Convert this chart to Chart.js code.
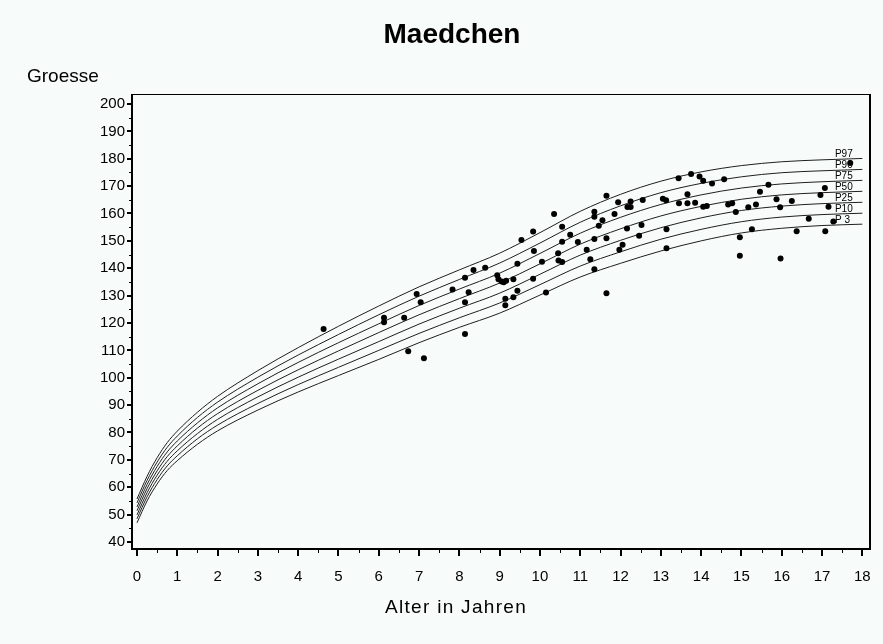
<!DOCTYPE html>
<html>
<head>
<meta charset="utf-8">
<title>Maedchen</title>
<script src="https://cdn.jsdelivr.net/npm/chart.js@4/dist/chart.umd.min.js"></script>
<style>
  html, body { margin: 0; padding: 0; background: #f7fbf9; }
  canvas { display: block; }
</style>
</head>
<body>
<canvas id="chart" width="883" height="644"></canvas>
<script>
// Percentile reference curves (height in cm by age in years)
const curveAges = [0, 0.25, 0.5, 0.75, 1, 1.5, 2, 3, 4, 5, 6, 7, 8, 9, 10, 11, 12, 13, 14, 15, 16, 17, 18];
const p97 = [55.7, 64.0, 70.8, 76.3, 80.5, 87.4, 93.2, 102.6, 111.0, 118.8, 126.2, 133.2, 139.4, 145.5, 153.0, 160.8, 167.0, 171.8, 175.2, 177.5, 178.9, 179.6, 180.1];
const p90 = [54.3, 62.5, 69.2, 74.6, 78.7, 85.5, 91.1, 100.2, 108.3, 115.8, 123.0, 129.8, 135.9, 141.9, 149.2, 156.8, 162.8, 167.6, 171.0, 173.4, 174.9, 175.6, 176.1];
const p75 = [52.8, 61.0, 67.6, 72.9, 76.9, 83.5, 89.0, 97.8, 105.6, 112.8, 119.7, 126.4, 132.4, 138.2, 145.4, 152.8, 158.6, 163.3, 166.8, 169.3, 170.8, 171.6, 172.1];
const p50 = [51.4, 59.5, 66.0, 71.2, 75.1, 81.6, 86.9, 95.4, 102.9, 109.8, 116.5, 123.0, 128.9, 134.6, 141.6, 148.8, 154.4, 159.1, 162.6, 165.2, 166.8, 167.6, 168.1];
const p25 = [49.9, 58.0, 64.4, 69.5, 73.3, 79.6, 84.8, 93.0, 100.2, 106.8, 113.2, 119.6, 125.4, 130.9, 137.8, 144.8, 150.2, 154.8, 158.4, 161.1, 162.7, 163.6, 164.1];
const p10 = [48.5, 56.5, 62.8, 67.8, 71.5, 77.7, 82.7, 90.6, 97.5, 103.8, 110.0, 116.2, 121.9, 127.3, 134.0, 140.8, 146.0, 150.6, 154.2, 157.0, 158.7, 159.6, 160.1];
const p3  = [47.0, 55.0, 61.2, 66.1, 69.7, 75.7, 80.6, 88.2, 94.8, 100.8, 106.7, 112.8, 118.4, 123.6, 130.2, 136.8, 141.8, 146.3, 150.0, 152.9, 154.6, 155.6, 156.1];
const percentileNames = ['P97', 'P90', 'P75', 'P50', 'P25', 'P10', 'P 3'];

// Measured girls: age (years) and height (cm)
const girlAges = [
  4.63, 6.13, 6.13, 6.63, 6.94, 7.04, 6.73, 7.12, 7.83, 8.14,
  8.14, 8.14, 8.23, 8.35, 8.64, 8.94, 8.97, 9.05, 9.10, 9.16,
  9.34, 9.83, 9.44, 9.14, 9.34, 9.14, 9.44, 9.54, 9.83, 9.85,
  10.05, 10.15, 10.35, 10.55, 10.45, 10.46, 10.55, 10.55, 10.75, 10.94,
  11.16, 11.25, 11.35, 11.35, 11.35, 11.35, 11.46, 11.55, 11.65, 11.65,
  11.65, 11.85, 11.94, 11.97, 12.05, 12.16, 12.17, 12.25, 12.25, 12.46,
  12.52, 12.55, 13.05, 13.13, 13.14, 13.14, 13.44, 13.45, 13.66, 13.66,
  13.75, 13.85, 13.96, 14.05, 14.05, 14.14, 14.27, 14.57, 14.67, 14.77,
  14.86, 14.96, 14.96, 15.17, 15.26, 15.36, 15.46, 15.67, 15.87, 15.96,
  15.97, 16.25, 16.37, 16.67, 16.96, 17.07, 17.08, 17.16, 17.28, 17.70
];
const girlHeights = [
  117.8, 121.9, 120.3, 121.9, 130.6, 127.6, 109.7, 107.1, 132.2, 136.5,
  127.6, 116.0, 131.2, 139.4, 140.2, 137.4, 136.0, 135.2, 134.9, 135.4,
  136.0, 136.2, 131.8, 128.9, 129.4, 126.5, 141.6, 150.3, 153.4, 146.3,
  142.4, 131.1, 159.8, 155.2, 145.5, 142.8, 142.3, 149.7, 152.2, 149.6,
  146.8, 143.3, 139.6, 150.7, 160.6, 158.8, 155.5, 157.5, 166.5, 151.0,
  130.9, 159.8, 164.1, 146.8, 148.6, 154.5, 162.4, 162.4, 164.4, 151.9,
  155.8, 164.9, 165.4, 164.8, 154.2, 147.3, 172.9, 163.7, 167.0, 163.7,
  174.4, 163.9, 173.5, 172.0, 162.5, 162.7, 171.0, 172.5, 163.3, 163.7,
  160.5, 151.3, 144.6, 162.3, 154.2, 163.3, 167.9, 170.5, 165.2, 162.3,
  143.6, 164.6, 153.5, 158.1, 166.8, 169.3, 153.5, 162.5, 157.1, 178.4
];

// Axis ticks
const xTickValues = [0, 1, 2, 3, 4, 5, 6, 7, 8, 9, 10, 11, 12, 13, 14, 15, 16, 17, 18];
const yTickValues = [40, 50, 60, 70, 80, 90, 100, 110, 120, 130, 140, 150, 160, 170, 180, 190, 200];

const curveSeries = [p97, p90, p75, p50, p25, p10, p3];
const FONT = '"Liberation Sans", Arial, Helvetica, sans-serif';

const curveDatasets = curveSeries.map((vals, k) => ({
  label: percentileNames[k],
  data: curveAges.map((a, i) => ({ x: a, y: vals[i] })),
  showLine: true,
  borderColor: '#1e1e1e',
  borderWidth: 1,
  pointRadius: 0,
  cubicInterpolationMode: 'monotone',
  fill: false
}));

const pointDataset = {
  label: 'Groesse',
  data: girlAges.map((a, i) => ({ x: a, y: girlHeights[i] })),
  showLine: false,
  pointRadius: 3,
  pointBackgroundColor: '#000',
  pointBorderWidth: 0
};

// Frame, tick marks, titles and percentile labels
const decorations = {
  id: 'decorations',
  afterDraw(chart) {
    const { ctx, chartArea: a, scales } = chart;
    const xs = scales.x, ys = scales.y;
    const L = a.left, R = a.right, T = a.top, B = a.bottom;
    ctx.save();
    ctx.fillStyle = '#000';
    // plot frame
    ctx.fillRect(L - 1, T, 2, B - T + 1);
    ctx.fillRect(L - 1, B - 1, R - L + 2, 2);
    ctx.fillRect(L - 1, T, R - L + 2, 1);
    ctx.fillRect(R - 1, T, 2, B - T + 1);
    // y ticks (major and minor)
    yTickValues.forEach((v, i) => {
      const py = Math.round(ys.getPixelForValue(v));
      ctx.fillRect(L - 5, py - 1, 4, 2);
      if (i < yTickValues.length - 1) {
        const pm = Math.round(ys.getPixelForValue(v + 5));
        ctx.fillRect(L - 3, pm, 2, 1);
      }
    });
    // x ticks (major and minor)
    xTickValues.forEach((v, i) => {
      const px = Math.round(xs.getPixelForValue(v));
      ctx.fillRect(px - 1, B + 1, 2, 6);
      if (i < xTickValues.length - 1) {
        const pm = Math.round(xs.getPixelForValue(v + 0.5));
        ctx.fillRect(pm, B + 1, 1, 3);
      }
    });
    // percentile labels at the right end of the curves
    ctx.font = '10px ' + FONT;
    ctx.textAlign = 'left';
    ctx.textBaseline = 'alphabetic';
    const lx = xs.getPixelForValue(17.32);
    curveSeries.forEach((vals, k) => {
      const py = ys.getPixelForValue(vals[vals.length - 1]);
      ctx.fillText(percentileNames[k], lx, py - 1.5);
    });
    // titles
    ctx.font = 'bold 28px ' + FONT;
    ctx.textAlign = 'center';
    ctx.fillText('Maedchen', 452, 43);
    ctx.font = '19px ' + FONT;
    ctx.textAlign = 'left';
    ctx.fillText('Groesse', 27, 82);
    ctx.textAlign = 'center';
    ctx.letterSpacing = '1.3px';
    ctx.fillText('Alter in Jahren', 456, 613);
    ctx.letterSpacing = '0px';
    ctx.restore();
  }
};

new Chart(document.getElementById('chart'), {
  type: 'scatter',
  data: { datasets: [pointDataset, ...curveDatasets] },
  options: {
    responsive: false,
    animation: false,
    devicePixelRatio: 1,
    layout: { padding: { left: 0, right: 13, top: 94, bottom: 0 } },
    plugins: {
      legend: { display: false },
      tooltip: { enabled: false },
      title: { display: false }
    },
    scales: {
      x: {
        type: 'linear',
        min: -0.124,
        max: 18.19,
        afterBuildTicks: s => { s.ticks = xTickValues.map(v => ({ value: v })); },
        afterFit: s => { s.height = 95; s.paddingLeft = 0; s.paddingRight = 0; },
        grid: { display: false, drawTicks: false },
        border: { display: false },
        ticks: {
          padding: 19,
          color: '#000',
          autoSkip: false,
          maxRotation: 0,
          font: { family: FONT, size: 15 }
        }
      },
      y: {
        type: 'linear',
        min: 37.44,
        max: 203.65,
        afterBuildTicks: s => { s.ticks = yTickValues.map(v => ({ value: v })); },
        afterFit: s => { s.width = 132; s.paddingTop = 0; s.paddingBottom = 0; },
        grid: { display: false, drawTicks: false },
        border: { display: false },
        ticks: {
          padding: 7,
          color: '#000',
          autoSkip: false,
          font: { family: FONT, size: 15 }
        }
      }
    }
  },
  plugins: [decorations]
});
</script>
</body>
</html>
